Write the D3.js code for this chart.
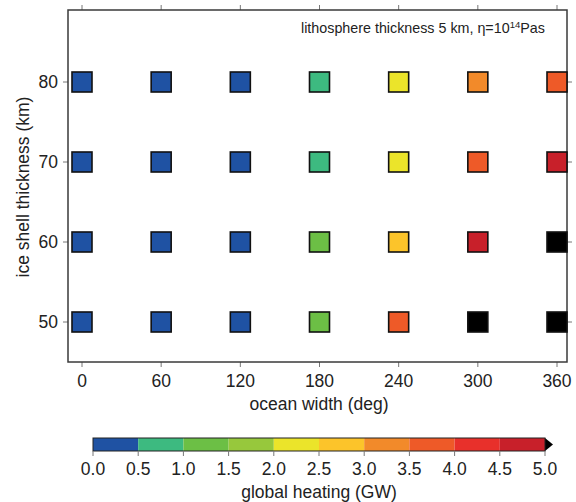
<!DOCTYPE html>
<html>
<head>
<script src="https://d3js.org/d3.v7.min.js"></script>
<style>
  body { margin: 0; background: #fff; }
  text { font-family: "Liberation Sans", Arial, sans-serif; fill: #222; }
</style>
</head>
<body>
<div id="chart"></div>
<script>
// data
const oceanWidths = [0, 60, 120, 180, 240, 300, 360];
const shellThickness = [80, 70, 60, 50];
const heat80 = [0.1, 0.2, 0.3, 0.8, 2.3, 3.2, 3.7];
const heat70 = [0.1, 0.2, 0.3, 0.8, 2.2, 3.8, 4.6];
const heat60 = [0.1, 0.2, 0.4, 1.2, 2.7, 4.6, 5.6];
const heat50 = [0.1, 0.2, 0.4, 1.3, 3.7, 5.5, 6.5];
const heatRows = [heat80, heat70, heat60, heat50];
const colorBreaks = [0.5, 1.0, 1.5, 2.0, 2.5, 3.0, 3.5, 4.0, 4.5, 5.0];
const colorClasses = ["#1f52a3", "#3dba80", "#6cbf45", "#97c83c", "#ebe42a",
                      "#fcc42a", "#f28a2a", "#ee5a28", "#e8302b", "#c8202a", "#000000"];
const cbTicks = [0, 0.5, 1, 1.5, 2, 2.5, 3, 3.5, 4, 4.5, 5];

const width = 576, height = 502;
const svg = d3.select("#chart").append("svg")
  .attr("width", width).attr("height", height);

// plot frame
const pLeft = 68, pRight = 567, pTop = 10, pBottom = 362;
const fs = 17.5;

const x = d3.scaleLinear().domain([0, 360]).range([82, 557]);
const y = d3.scaleLinear().domain([50, 80]).range([322, 82]);
const color = d3.scaleThreshold().domain(colorBreaks).range(colorClasses);

const points = [];
shellThickness.forEach((t, i) => {
  oceanWidths.forEach((w, j) => points.push({ w: w, t: t, v: heatRows[i][j] }));
});

// ticks on all four sides (outward)
const tickColor = "#777";
const g = svg.append("g");
oceanWidths.forEach(w => {
  g.append("line").attr("x1", x(w)).attr("x2", x(w)).attr("y1", pBottom).attr("y2", pBottom + 5)
    .attr("stroke", tickColor).attr("stroke-width", 1);
  g.append("line").attr("x1", x(w)).attr("x2", x(w)).attr("y1", pTop).attr("y2", pTop - 5)
    .attr("stroke", tickColor).attr("stroke-width", 1);
  g.append("text").attr("x", x(w)).attr("y", pBottom + 25)
    .attr("text-anchor", "middle").attr("font-size", fs).text(w);
});
shellThickness.forEach(t => {
  g.append("line").attr("x1", pLeft).attr("x2", pLeft - 5).attr("y1", y(t)).attr("y2", y(t))
    .attr("stroke", tickColor).attr("stroke-width", 1);
  g.append("line").attr("x1", pRight).attr("x2", pRight + 5).attr("y1", y(t)).attr("y2", y(t))
    .attr("stroke", tickColor).attr("stroke-width", 1);
  g.append("text").attr("x", pLeft - 10).attr("y", y(t)).attr("dy", "0.36em")
    .attr("text-anchor", "end").attr("font-size", fs).text(t);
});

svg.append("rect").attr("x", pLeft).attr("y", pTop)
  .attr("width", pRight - pLeft).attr("height", pBottom - pTop)
  .attr("fill", "none").attr("stroke", "#3a3a3a").attr("stroke-width", 1.5);

// squares
const sz = 20;
svg.append("g").selectAll("rect").data(points).join("rect")
  .attr("x", d => x(d.w) - sz / 2)
  .attr("y", d => y(d.t) - sz / 2)
  .attr("width", sz).attr("height", sz)
  .attr("fill", d => color(d.v))
  .attr("stroke", "#111").attr("stroke-width", 1.6);

// labels
svg.append("text").attr("x", 319).attr("y", 410)
  .attr("text-anchor", "middle").attr("font-size", fs).text("ocean width (deg)");
svg.append("text")
  .attr("transform", `translate(23,187) rotate(-90)`)
  .attr("text-anchor", "middle").attr("dy", "0.35em").attr("font-size", fs)
  .text("ice shell thickness (km)");

const ann = svg.append("text").attr("x", 301).attr("y", 33)
  .attr("text-anchor", "start").attr("font-size", 14.3);
ann.append("tspan").text("lithosphere thickness 5 km, η=10");
ann.append("tspan").attr("font-size", 9.5).attr("dy", -5.5).text("14");
ann.append("tspan").attr("dy", 5.5).text("Pas");

// colorbar
const cb = d3.scaleLinear().domain([0, 5]).range([93, 545]);
const cbTop = 438, cbH = 13;
const cbG = svg.append("g");
cbG.selectAll("rect").data(d3.range(10)).join("rect")
  .attr("x", i => cb(i * 0.5)).attr("y", cbTop)
  .attr("width", i => cb((i + 1) * 0.5) - cb(i * 0.5)).attr("height", cbH)
  .attr("fill", i => colorClasses[i]);
// over-range arrow
cbG.append("path")
  .attr("d", `M${cb(5)},${cbTop} L${cb(5) + 8},${cbTop + cbH / 2} L${cb(5)},${cbTop + cbH} Z`)
  .attr("fill", colorClasses[10]);
cbG.append("rect").attr("x", cb(0)).attr("y", cbTop)
  .attr("width", cb(5) - cb(0)).attr("height", cbH)
  .attr("fill", "none").attr("stroke", "#222").attr("stroke-width", 1);
cbTicks.forEach(v => {
  cbG.append("line").attr("x1", cb(v)).attr("x2", cb(v))
    .attr("y1", cbTop + cbH).attr("y2", cbTop + cbH + 5)
    .attr("stroke", tickColor).attr("stroke-width", 1);
  cbG.append("text").attr("x", cb(v)).attr("y", 475)
    .attr("text-anchor", "middle").attr("font-size", fs).text(v.toFixed(1));
});
svg.append("text").attr("x", (cb(0) + cb(5)) / 2).attr("y", 498)
  .attr("text-anchor", "middle").attr("font-size", fs).text("global heating (GW)");
</script>
</body>
</html>
